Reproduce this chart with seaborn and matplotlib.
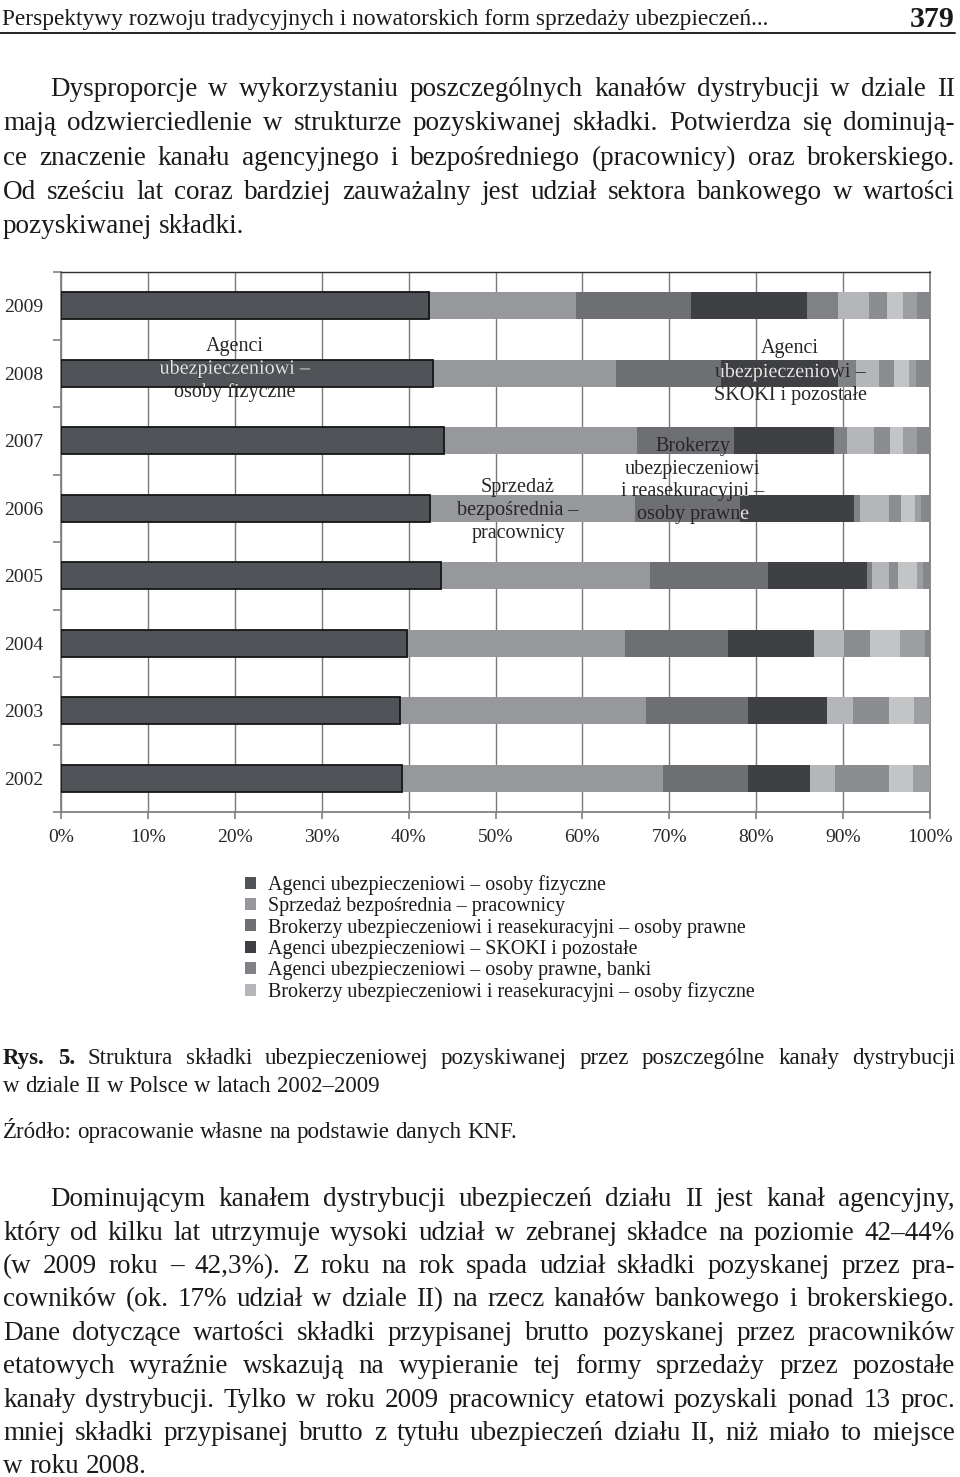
import matplotlib
matplotlib.use("Agg")
import numpy as np
import pandas as pd
import seaborn as sns
import matplotlib.pyplot as plt
from matplotlib.path import Path
from matplotlib.patches import Patch
import matplotlib.patheffects as pe

# ---------------- data ----------------
years = ["2009", "2008", "2007", "2006", "2005", "2004", "2003", "2002"]
agenci_fizyczne   = [42.3, 42.8, 44.1, 42.5, 43.7, 39.8, 39.0, 39.2]
sprzedaz_bezposr  = [17.0, 21.1, 22.2, 23.5, 24.1, 25.1, 28.3, 30.1]
brokerzy_prawne   = [13.2, 12.1, 11.2, 12.1, 13.6, 11.9, 11.8, 9.8]
agenci_skoki      = [13.4, 13.4, 11.5, 13.1, 11.3, 9.9, 9.0, 7.1]
agenci_prawne     = [3.5, 2.1, 1.4, 0.8, 0.6, 0.0, 0.0, 0.0]
brokerzy_fizyczne = [3.6, 2.6, 3.1, 3.3, 2.0, 3.4, 3.0, 2.9]
pozostale_1       = [2.1, 1.8, 1.9, 1.4, 1.0, 3.0, 4.2, 6.2]
pozostale_2       = [1.8, 1.7, 1.5, 1.6, 2.2, 3.5, 2.9, 2.7]
pozostale_3       = [1.6, 0.8, 1.6, 0.7, 0.7, 2.8, 1.8, 2.0]
pozostale_4       = [1.5, 1.5, 1.5, 1.0, 0.8, 0.6, 0.0, 0.0]

series = [agenci_fizyczne, sprzedaz_bezposr, brokerzy_prawne, agenci_skoki,
          agenci_prawne, brokerzy_fizyczne, pozostale_1, pozostale_2,
          pozostale_3, pozostale_4]
legend_labels = [
    "Agenci ubezpieczeniowi – osoby fizyczne",
    "Sprzedaż bezpośrednia – pracownicy",
    "Brokerzy ubezpieczeniowi i reasekuracyjni – osoby prawne",
    "Agenci ubezpieczeniowi – SKOKI i pozostałe",
    "Agenci ubezpieczeniowi – osoby prawne, banki",
    "Brokerzy ubezpieczeniowi i reasekuracyjni – osoby fizyczne",
]
colors = ["#505357", "#96989b", "#6e6f72", "#3f4043", "#7f8184",
          "#b4b6b9", "#8b8d90", "#c3c4c6", "#9d9ea1", "#86878a"]

x_ticks = list(range(0, 101, 10))
x_tick_labels = [f"{v}%" for v in x_ticks]

annotations = [
    (20.0, [0.60, 0.94, 1.28], ["Agenci", "ubezpieczeniowi –", "osoby fizyczne"]),
    (83.9, [0.64, 0.99, 1.33], ["Agenci", "ubezpieczeniowi –", "SKOKI i pozostałe"]),
    (52.6, [2.69, 3.03, 3.37], ["Sprzedaż", "bezpośrednia –", "pracownicy"]),
    (72.7, [2.09, 2.42, 2.75, 3.09], ["Brokerzy", "ubezpieczeniowi",
                                      "i reasekuracyjni –", "osoby prawne"]),
]

header_left = "Perspektywy rozwoju tradycyjnych i nowatorskich form sprzedaży ubezpieczeń..."
header_right = "379"
para1 = [
    "Dysproporcje w wykorzystaniu poszczególnych kanałów dystrybucji w dziale II",
    "mają odzwierciedlenie w strukturze pozyskiwanej składki. Potwierdza się dominują-",
    "ce znaczenie kanału agencyjnego i bezpośredniego (pracownicy) oraz brokerskiego.",
    "Od sześciu lat coraz bardziej zauważalny jest udział sektora bankowego w wartości",
    "pozyskiwanej składki.",
]
caption_bold = "Rys. 5."
caption = [
    "Struktura składki ubezpieczeniowej pozyskiwanej przez poszczególne kanały dystrybucji",
    "w dziale II w Polsce w latach 2002–2009",
]
source = "Źródło: opracowanie własne na podstawie danych KNF."
para2 = [
    "Dominującym kanałem dystrybucji ubezpieczeń działu II jest kanał agencyjny,",
    "który od kilku lat utrzymuje wysoki udział w zebranej składce na poziomie 42–44%",
    "(w 2009 roku – 42,3%). Z roku na rok spada udział składki pozyskanej przez pra-",
    "cowników (ok. 17% udział w dziale II) na rzecz kanałów bankowego i brokerskiego.",
    "Dane dotyczące wartości składki przypisanej brutto pozyskanej przez pracowników",
    "etatowych wyraźnie wskazują na wypieranie tej formy sprzedaży przez pozostałe",
    "kanały dystrybucji. Tylko w roku 2009 pracownicy etatowi pozyskali ponad 13 proc.",
    "mniej składki przypisanej brutto z tytułu ubezpieczeń działu II, niż miało to miejsce",
    "w roku 2008.",
]

# ---------------- setup ----------------
sns.set_style("white")
plt.rcParams["font.family"] = ["Liberation Serif", "DejaVu Serif"]
plt.rcParams["text.color"] = "#1a1a1a"

W, H = 960, 1477
fig = plt.figure(figsize=(W / 100, H / 100), dpi=100)
renderer = fig.canvas.get_renderer()

ax_l, ax_r, ax_t, ax_b = 61, 930, 272, 812
ax = fig.add_axes([ax_l / W, 1 - ax_b / H, (ax_r - ax_l) / W, (ax_b - ax_t) / H])

# stacked bars: draw cumulative totals from widest to narrowest
cum = np.cumsum(np.array(series), axis=0)
for i in reversed(range(len(series))):
    df = pd.DataFrame({"rok": years, "udzial": cum[i]})
    kw = dict(edgecolor="#151515", linewidth=1.3) if i == 0 else dict(linewidth=0)
    sns.barplot(data=df, x="udzial", y="rok", order=years, orient="h",
                color=colors[i], saturation=1, width=0.4, errorbar=None,
                ax=ax, zorder=3, **kw)

ax.set_xlim(0, 100)
ax.set_ylim(len(years) - 0.5, -0.5)
ax.set_xlabel("")
ax.set_ylabel("")
ax.set_xticks(x_ticks)
ax.set_xticklabels(x_tick_labels)
ax.set_yticks(range(len(years)))
ax.set_yticklabels(years)
ax.set_yticks(np.arange(-0.5, len(years), 1.0), minor=True)
ax.tick_params(axis="y", which="major", length=0, pad=13, labelsize=14)
ax.tick_params(axis="y", which="minor", length=6, width=1.2, color="#808080",
               direction="out", left=True)
ax.tick_params(axis="x", which="major", length=5, width=1.2, color="#808080",
               direction="out", bottom=True, pad=7, labelsize=14)
ax.grid(axis="x", color="#7a7a7a", linewidth=1.0, zorder=0)
ax.set_axisbelow(True)
for side in ["left", "right", "bottom"]:
    ax.spines[side].set_color("#808080")
    ax.spines[side].set_linewidth(1.3)
ax.spines["top"].set_color("#303030")
ax.spines["top"].set_linewidth(1.0)

# clip path: union of the two darkest segment types (light text over them)
lefts = np.vstack([np.zeros(len(years)), cum[:-1]])
paths = []
for s_idx in (0, 3):
    for r in range(len(years)):
        x0 = lefts[s_idx][r]
        x1 = cum[s_idx][r]
        if x1 - x0 <= 0:
            continue
        y0, y1 = r - 0.2, r + 0.2
        paths.append(Path([(x0, y0), (x1, y0), (x1, y1), (x0, y1), (x0, y0)],
                          [Path.MOVETO, Path.LINETO, Path.LINETO, Path.LINETO,
                           Path.CLOSEPOLY]))
dark_union = Path.make_compound_path(*paths)

ANN_FS = 14.5
for xc, ys, lines in annotations:
    for yy, line in zip(ys, lines):
        ax.text(xc, yy, line, ha="center", va="center", fontsize=ANN_FS,
                color="#262626", zorder=6, clip_on=False)
        t2 = ax.text(xc, yy, line, ha="center", va="center", fontsize=ANN_FS,
                     color="#e6e6e6", zorder=7,
                     path_effects=[pe.Normal()])
        t2.set_clip_path(dark_union, ax.transData)
        t2.set_clip_on(True)

# legend (first six series)
handles = [Patch(facecolor=colors[i], edgecolor="none") for i in range(6)]
fig.legend(handles, legend_labels, loc="upper left",
           bbox_to_anchor=(245 / W, 1 - 875 / H), frameon=False,
           fontsize=14.4, handlelength=0.55, handleheight=0.55,
           handletextpad=0.6, labelspacing=0.115, borderpad=0,
           borderaxespad=0)

# ---------------- page text ----------------
def tw(s, size, weight="normal"):
    t = fig.text(0, 0, s, fontsize=size, fontweight=weight)
    w = t.get_window_extent(renderer).width
    t.remove()
    return w

def space_w(size, weight="normal"):
    return tw("n n", size, weight) - tw("nn", size, weight)

def put_line(segments, y_base, x0, x1, size, justify=True, color="#1a1a1a"):
    tokens = []
    for s, wgt in segments:
        for w in s.split(" "):
            if w:
                tokens.append((w, wgt))
    widths = [tw(w, size, wg) for w, wg in tokens]
    sp = space_w(size)
    if justify and len(tokens) > 1:
        gap = (x1 - x0 - sum(widths)) / (len(tokens) - 1)
    else:
        gap = sp
    x = x0
    for (w, wg), wd in zip(tokens, widths):
        fig.text(x / W, 1 - y_base / H, w, fontsize=size, fontweight=wg,
                 ha="left", va="baseline", color=color)
        x += wd + gap

def fit_size(lines_specs, base):
    sc = 1.0
    sp = space_w(base)
    for txt, avail in lines_specs:
        words = txt.split(" ")
        nat = sum(tw(w, base) for w in words) + sp * 0.85 * (len(words) - 1)
        sc = min(sc, avail / nat)
    return base * sc

L, R = 3, 955
INDENT = 47

# header
hs = fit_size([(header_left, 760)], 17)
fig.text(2 / W, 1 - 25 / H, header_left, fontsize=hs, ha="left", va="baseline")
fig.text(955 / W, 1 - 27 / H, header_right, fontsize=21.5, fontweight="bold",
         ha="right", va="baseline")
fig.add_artist(plt.Line2D([0, 955 / W], [1 - 33 / H, 1 - 33 / H],
                          color="#222222", linewidth=1.4))

body_fs = fit_size([(para1[0], R - L - INDENT)] + [(s, R - L) for s in para1[1:4]]
                   + [(para2[0], R - L - INDENT)] + [(s, R - L) for s in para2[1:8]], 19.5)
body_off = 0.30 * body_fs * 100 / 72

y1 = [88, 122.3, 156.5, 190.8, 225]
for i, (line, yc) in enumerate(zip(para1, y1)):
    x0 = L + INDENT if i == 0 else L
    put_line([(line, "normal")], yc + body_off, x0, R, body_fs,
             justify=(i < len(para1) - 1))

cap_fs = 16.5
cap_off = 0.30 * cap_fs * 100 / 72
put_line([(caption_bold, "bold"), (caption[0], "normal")], 1057 + cap_off, L, R, cap_fs)
put_line([(caption[1], "normal")], 1085 + cap_off, L, R, cap_fs, justify=False)
put_line([(source, "normal")], 1131 + cap_off, L, R, cap_fs, justify=False)

y2 = [1198 + 33.4 * k for k in range(len(para2))]
for i, (line, yc) in enumerate(zip(para2, y2)):
    x0 = L + INDENT if i == 0 else L
    put_line([(line, "normal")], yc + body_off, x0, R, body_fs,
             justify=(i < len(para2) - 1))

fig.savefig("out.png", dpi=100, facecolor="white")
